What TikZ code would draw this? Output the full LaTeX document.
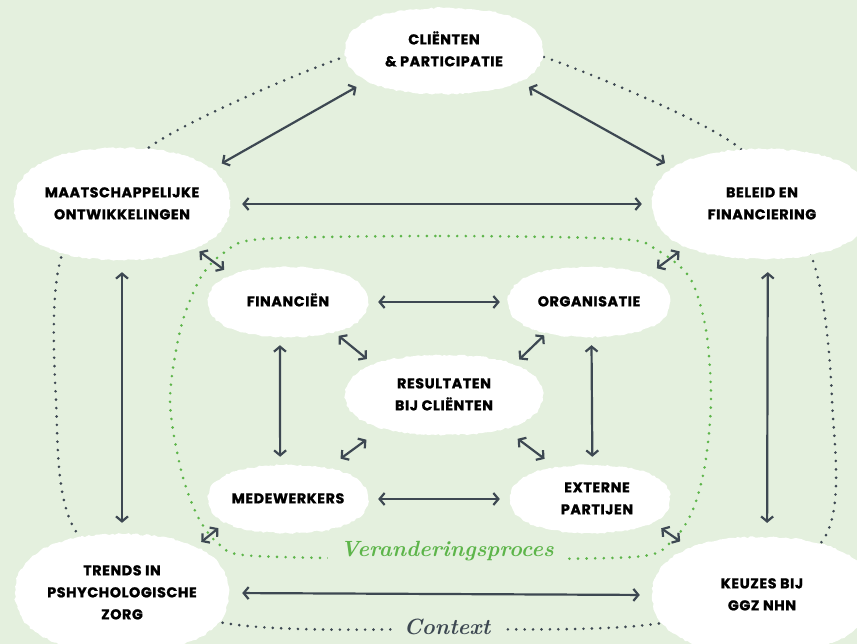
\documentclass[tikz,border=0pt]{standalone}
\usepackage{fontspec}
\setsansfont{Poppins}[LetterSpace=4, BoldFeatures={FakeBold=1.2}]
\usetikzlibrary{arrows.meta,shapes.geometric,decorations.pathmorphing}
\definecolor{bgc}{HTML}{E4F0DE}
\definecolor{ink}{HTML}{3D4852}
\definecolor{grn}{HTML}{5DB54A}
\pgfdeclarelayer{bgl}\pgfdeclarelayer{loops}\pgfdeclarelayer{blobs}
\pgfsetlayers{bgl,loops,blobs,main}
\tikzset{
 nodetext/.style={ellipse, inner sep=0pt, font=\sffamily\bfseries\fontsize{14.3}{22}\selectfont, text=black},
 arr/.style={draw=ink, line width=2.2pt, {Straight Barb[length=5pt,width=12pt]}-{Straight Barb[length=5pt,width=12pt]}},
 blobfill/.style={fill=white, decorate, decoration={random steps, segment length=3pt, amplitude=0.9pt}},
 darkdots/.style={draw=ink, line width=2.9pt, line cap=round, dash pattern=on 0pt off 8.4pt},
 greendots/.style={draw=grn, line width=2.9pt, line cap=round, dash pattern=on 0pt off 8.6pt},
 scriptlbl/.style={fill=bgc, inner xsep=12pt, inner ysep=2pt, font=\rmfamily\bfseries\itshape\fontsize{22}{22}\selectfont}
}
\newcommand\lbl[2][0pt]{\makebox[0pt]{\hspace{#1}\begin{tabular}{@{}c@{}}#2\end{tabular}}}
\newcommand\blobat[3]{\begin{scope}[shift={(#1.center)}]\path[blobfill] (#2,0) .. controls (#2,0.64*#3) and (0.64*#2,#3) .. (0,#3) .. controls (-0.64*#2,#3) and (-#2,0.64*#3) .. (-#2,0) .. controls (-#2,-0.64*#3) and (-0.64*#2,-#3) .. (0,-#3) .. controls (0.64*#2,-#3) and (#2,-0.64*#3) .. (#2,0) -- cycle;\end{scope}}
\begin{document}
\begin{tikzpicture}[x=1pt,y=-1pt]
\begin{pgfonlayer}{bgl}
\fill[bgc] (0,0) rectangle (857,644);
\end{pgfonlayer}
\useasboundingbox (0,0) rectangle (857,644);
% nodes
\node[nodetext, minimum width=198pt, minimum height=86pt] (C) at (444,51) {\lbl{CLIËNTEN\\\& PARTICIPATIE}};
\node[nodetext, minimum width=216pt, minimum height=112pt] (M) at (122,204) {\lbl{MAATSCHAPPELIJKE\\ONTWIKKELINGEN}};
\node[nodetext, minimum width=220pt, minimum height=110pt] (B) at (762,204) {\lbl{BELEID EN\\FINANCIERING}};
\node[nodetext, minimum width=214pt, minimum height=118pt] (T) at (122,593) {\lbl{TRENDS IN\\PSHYCHOLOGISCHE\\ZORG}};
\node[nodetext, minimum width=220pt, minimum height=116pt] (K) at (762,595) {\lbl{KEUZES BIJ\\GGZ NHN}};
\node[nodetext, minimum width=160pt, minimum height=70pt] (F) at (288,302) {\lbl{FINANCIËN}};
\node[nodetext, minimum width=162pt, minimum height=70pt] (O) at (589,302) {\lbl{ORGANISATIE}};
\node[nodetext, minimum width=198pt, minimum height=80pt] (R) at (444,395) {\lbl{RESULTATEN\\BIJ CLIËNTEN}};
\node[nodetext, minimum width=160pt, minimum height=68pt] (W) at (288,499) {\lbl{MEDEWERKERS}};
\node[nodetext, minimum width=160pt, minimum height=68pt] (E) at (590,499) {\lbl[14pt]{EXTERNE\\PARTIJEN}};
% blobs
\begin{pgfonlayer}{blobs}
\blobat{C}{99}{43}
\blobat{M}{108}{56}
\blobat{B}{110}{55}
\blobat{T}{107}{59}
\blobat{K}{110}{58}
\blobat{F}{80}{35}
\blobat{O}{81}{35}
\blobat{R}{99}{40}
\blobat{W}{80}{34}
\blobat{E}{80}{34}
\end{pgfonlayer}
% loops
\begin{pgfonlayer}{loops}
\draw[darkdots] plot[smooth cycle] coordinates {(444,45) (544,57) (737,146) (812,258) (832,400) (823,540) (678,620) (447,629) (210,620) (77,533) (56,400) (63,252) (151,146) (344,57)};
\draw[greendots] plot[smooth cycle] coordinates {(262,239) (440,236) (620,239) (657,250) (690,278) (706,330) (711,400) (705,465) (692,512) (670,543) (633,557) (447,559) (255,556) (220,545) (198,517) (181,470) (170,400) (181,327) (201,277) (225,252)};
\end{pgfonlayer}
% arrows
\draw[arr, shorten <=15pt, shorten >=14.6pt] (C.201.1) -- (M.21.3);
\draw[arr, shorten <=13.8pt, shorten >=12.8pt] (C.338.4) -- (B.158.3);
\draw[arr, shorten <=12pt, shorten >=10pt] (M.east) -- (B.west);
\draw[arr, shorten <=12pt, shorten >=11pt] (M.south) -- (T.north);
\draw[arr, shorten <=13pt, shorten >=14pt] (B.276.2) -- (K.85.1);
\draw[arr, shorten <=13pt, shorten >=12pt] (T.east) -- (K.west);
\draw[arr, shorten <=8.3pt, shorten >=11pt] (M.329.8) -- (F.155.2);
\draw[arr, shorten <=10.7pt, shorten >=14.1pt] (B.209) -- (O.24.2);
\draw[arr, shorten <=10.6pt, shorten >=11.1pt] (T.32.7) -- (W.200.1);
\draw[arr, shorten <=12.4pt, shorten >=14.9pt] (E.340.4) -- (K.147.1);
\draw[arr, shorten <=10pt, shorten >=8pt] (F.east) -- (O.west);
\draw[arr, shorten <=10pt, shorten >=10pt] (W.east) -- (E.west);
\draw[arr, shorten <=8.2pt, shorten >=8.2pt] (F.257.05) -- (W.103.3);
\draw[arr, shorten <=8pt, shorten >=8pt] (O.274.9) -- (E.86.6);
\draw[arr, shorten <=7.4pt, shorten >=11pt] (F.327.1) -- (R.157.3);
\draw[arr, shorten <=4.5pt, shorten >=9.3pt] (O.216.9) -- (R.23.5);
\draw[arr, shorten <=17.5pt, shorten >=21.6pt] (W.38.8) -- (R.208);
\draw[arr, shorten <=15.1pt, shorten >=18.9pt] (E.137.7) -- (R.331.7);
% labels
\node[scriptlbl, text=grn] (vp) at (447,551) {Veranderingsproces};
\node[scriptlbl, text=ink] (ctx) at (447,627) {Context};
\end{tikzpicture}
\end{document}
